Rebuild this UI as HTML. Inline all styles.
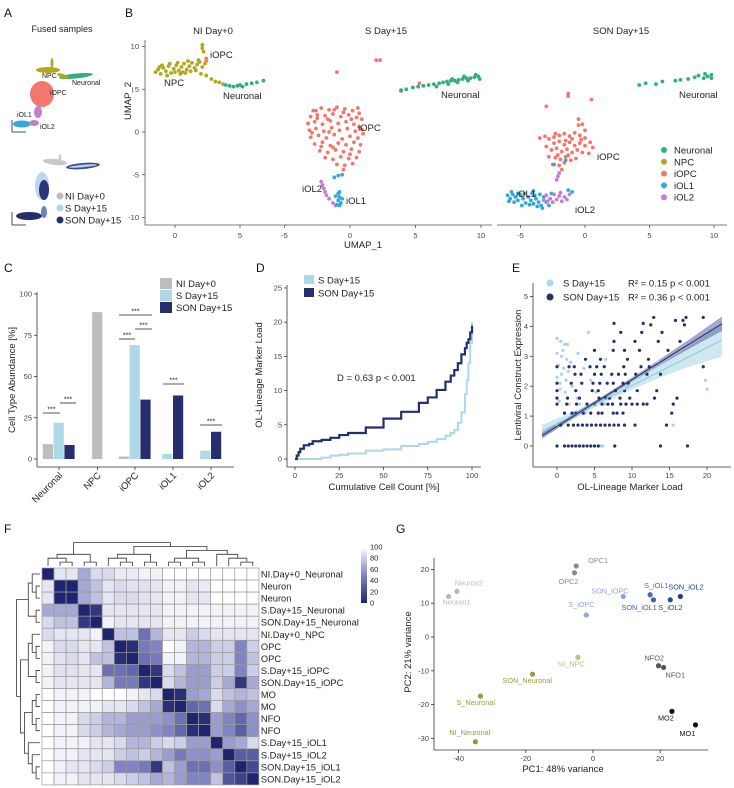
<!DOCTYPE html>
<html><head><meta charset="utf-8"><style>
html,body{margin:0;padding:0;background:#fff;}
svg{display:block;font-family:"Liberation Sans",Arial,sans-serif;}
</style></head><body>
<svg id="fig" width="734" height="788" viewBox="0 0 734 788" xmlns="http://www.w3.org/2000/svg">
<rect width="734" height="788" fill="#fff"/>
<g font-size="12" fill="#111">
<text x="4" y="17">A</text>
<text x="125" y="17">B</text>
<text x="4" y="272">C</text>
<text x="256" y="272">D</text>
<text x="512" y="272">E</text>
<text x="4" y="533">F</text>
<text x="396" y="533">G</text>
</g>
</svg>
<script>
const NS="http://www.w3.org/2000/svg";
const svg=document.getElementById('fig');
function mk(tag,attrs,parent){const e=document.createElementNS(NS,tag);for(const k in attrs)e.setAttribute(k,attrs[k]);(parent||svg).appendChild(e);return e;}
function grp(name){const g=mk('g',{});


return g;}
function txt(p,x,y,s,size,opts){opts=opts||{};const t=mk('text',{x:x,y:y,'font-size':size,fill:opts.fill||'#222','text-anchor':opts.anchor||'start'},p);if(opts.rot)t.setAttribute('transform','rotate('+opts.rot+' '+x+' '+y+')');t.textContent=s;


return t;}
function ln(p,x1,y1,x2,y2,c,w){return mk('line',{x1:x1,y1:y1,x2:x2,y2:y2,stroke:c||'#333','stroke-width':w||0.8},p);}

/* ================= DATA ================= */
// Panel B UMAP clusters
const cellTypes=['Neuronal','NPC','iOPC','iOL1','iOL2'];
const cellColors=['#30b07c','#b0a81e','#f3776c','#33a8dc','#c27fcf'];
const niNPC=[[-1.5,7],[-1.3,7.3],[-1.1,6.8],[-0.9,7.5],[-0.7,7.1],[-0.5,7.7],[-0.3,6.9],[-0.1,7.4],[0.1,7.8],[0.3,7.2],[0.5,7.6],[0.7,8],[0.9,7.3],[1.1,7.7],[1.3,8.1],[1.5,7.5],[1.7,7.9],[1.9,8.2],[2.1,7.6],[2.3,8],[0,7],[0.4,6.8],[0.8,6.9],[1.2,7.1],[1.6,7.2],[-0.6,6.6],[-1,7.8],[2,6.8],[2.4,6.6],[2.8,6.2],[3.1,5.9],[3.4,5.8],[3.7,5.6],[2.1,9.8],[2.1,10.2],[2.2,9.4],[-1.2,7.6],[0.2,8.1],[1,8.3],[1.8,8.4],[-0.4,8],[0.6,7.0]];
const niOPC=[[2.4,8.3],[2.4,8.6]];
const niNeuronal=[[3.9,5.5],[4.2,5.4],[4.5,5.3],[4.8,5.4],[5,5.5],[5.2,5.3],[5.5,5.6],[5.9,5.7],[6.3,5.8],[6.8,6]];
const sOPC=[[-2.8,2.5],[-2.2,2.8],[-1.6,2.6],[-1,2.9],[-0.4,2.7],[0.2,2.5],[0.7,2.2],[-3,1.8],[-2.5,2],[-1.9,1.9],[-1.3,2.1],[-0.7,1.8],[-0.1,2],[0.5,1.7],[0.9,1.5],[-3.2,1],[-2.7,1.2],[-2.1,0.9],[-1.5,1.3],[-0.9,1],[-0.3,1.2],[0.3,0.9],[-3.1,0.2],[-2.6,0.4],[-2,0.1],[-1.4,0.5],[-0.8,0.2],[-0.2,0.4],[0.4,0.1],[0.9,0.3],[-3,-0.6],[-2.4,-0.4],[-1.8,-0.7],[-1.2,-0.3],[-0.6,-0.8],[0,-0.5],[0.6,-0.7],[1,-0.2],[-2.7,-1.4],[-2.1,-1.2],[-1.5,-1.6],[-0.9,-1.3],[-0.3,-1.5],[0.3,-1.2],[0.8,-1.5],[-2.3,-2.2],[-1.7,-2.4],[-1.1,-2.1],[-0.5,-2.3],[0.1,-2],[0.7,-2.3],[-1.9,-3],[-1.3,-3.2],[-0.7,-2.9],[-0.1,-3.1],[0.5,-3],[-1,-3.8],[-0.4,-3.9],[0.2,-3.7],[-0.5,-4.4],[2,8.4],[2.3,8.4],[-1,7],[3.9,4.8],[5.3,5.7],[-2.5,1.6],[-1.7,1.5],[-0.5,2.3],[0.1,1.5],[-2.9,-0.1],[-1.6,0],[0.7,0.6],[-2.2,-1.7],[-1.3,-1.8],[0,-2.6],[-2.6,2.5],[-1.2,2.6],[0.6,2.8]];
const sOL2=[[-2.2,-5.8],[-2.1,-6.2],[-2,-6.6],[-1.9,-7],[-1.8,-7.4],[-1.6,-7.8],[-1.3,-8.3],[-1.1,-8.6]];
const sOL1=[[-0.9,-7.2],[-0.8,-7.6],[-0.9,-8],[-0.7,-8.3],[-1,-8.5],[-0.8,-7],[-1.1,-7.5],[-0.6,-7.8],[-0.6,-5],[-1.2,-5.3],[-0.9,-5.1],[-0.8,-8.6]];
const sNeuronal=[[3.9,4.9],[4.3,5],[4.8,5.2],[5.2,5.3],[5.6,5.4],[6,5.5],[6.4,5.6],[6.8,5.7],[7.1,5.8],[7.4,5.9],[7.7,6],[8,6],[8.3,6.1],[8.6,6.2],[8.9,6.3],[9.2,6.3],[9.5,6.4],[9.8,6.5],[9.9,6.2],[7.5,5.6],[8.2,5.8],[9,6],[6.6,5.3],[9.6,6.7],[8.7,6.5],[7.8,6.2]];
const sonNeuronal=[[4.2,5.5],[4.7,5.7],[5.5,5.6],[6,5.9],[7,6],[7.4,6.1],[8,6.2],[8.5,6.4],[8.8,6.6],[9.2,6.3],[9.5,6.5],[9.8,6.7],[9.8,6.3],[9.3,6.8]];
const sonOPC=[[-3.5,-0.7],[-3.1,-0.5],[-2.8,-0.8],[-2.4,-0.6],[-0.5,0.8],[-0.5,1.5],[-0.2,0.9],[0,0.2],[-2,-0.4],[-1.6,-0.2],[-1.2,-0.5],[-0.8,-0.1],[-0.4,-0.4],[0,-0.7],[0.4,-1.2],[0.6,-1.8],[-2.4,-1.3],[-2,-1.1],[-1.6,-1.5],[-1.2,-1.2],[-0.8,-1.6],[-0.4,-1.3],[0,-1.6],[-2.6,-2.1],[-2.2,-1.9],[-1.8,-2.3],[-1.4,-2],[-1,-2.4],[-0.6,-2.1],[-0.2,-2.4],[0.3,-2.5],[-2.8,-2.9],[-2.3,-3],[-1.9,-3.2],[-1.5,-2.9],[-1.1,-3.3],[-0.7,-3.1],[-2.5,-3.8],[-2,-3.9],[-1.6,-3.6],[-1.8,-4.4],[-1.5,-1],[-1,-0.8],[-2.1,-2.7],[-1.3,-2.7],[-3,-1.7],[-0.3,-0.9],[-3,3],[-1.3,4.2],[-1.3,4.5],[0.5,3.8],[-2.3,-0.2]];
const sonOL2=[[-2,-4.8],[-2.1,-5.2],[-2.2,-5.6],[-3,-7.4],[-2.7,-7.8],[-2.4,-7.3],[-2.2,-7.9],[-2,-7.5],[-1.8,-8.1],[-1.6,-7.6],[-1.4,-7.9],[-1.2,-7.3],[-2.5,-8.2],[-1.9,-7.1],[-3.2,-8],[-2.9,-8.1]];
const sonOL1=[[-6,-7.4],[-5.8,-7.8],[-5.6,-7.3],[-5.4,-7.6],[-5.2,-8],[-5,-7.4],[-4.8,-7.8],[-4.6,-8.3],[-4.4,-7.6],[-4.2,-8],[-4,-8.4],[-3.8,-7.8],[-3.6,-8.2],[-3.4,-8.6],[-3.2,-7.6],[-3,-8.2],[-2.8,-8.6],[-5.9,-8.1],[-5.5,-8.2],[-5.1,-7.2],[-4.7,-7.2],[-4.3,-8.5],[-3.9,-7.4],[-3.5,-7.3],[-3.3,-8.9],[-2.6,-7.2],[-1.3,-6.8],[-1,-7],[-4,-6.9],[-2.4,-3.8],[-1.5,-3.3],[-5.7,-7.0],[-4.9,-8.6],[-4.1,-7.2],[-3.7,-8.7]];

// Panel C bars
const barCategories=['Neuronal','NPC','iOPC','iOL1','iOL2'];
const barSeries=['NI Day+0','S Day+15','SON Day+15'];
const barNI=[9,89,1.5,null,null];
const barS=[22,null,69,3,5];
const barSON=[8.5,null,36,38.5,16.5];
const barColors=['#bdbdbd','#add8e6','#262f6e'];
const yTicksC=[0,25,50,75,100];

// Panel D ECDF
const ecdfPct=[0,1,2,3,5,8,10,15,20,25,30,40,50,60,70,75,80,85,88,90,92,94,96,97,98,99,100];
const ecdfSON=[0,0.5,1,1.5,2,2.2,2.6,2.8,3.1,3.5,3.8,4.6,5.9,6.9,8.2,9,10.1,11.3,12.2,13,14,15.3,16.2,17,17.5,18.5,19.5];
const ecdfS=[0,0,0,0,0,0,0,0.2,0.5,0.6,0.8,1.2,1.4,1.9,2.2,2.5,2.9,3.4,3.8,4.2,5.3,6.8,9.5,11.5,14,17,20];
const xTicksD=[0,25,50,75,100];
const yTicksD=[0,5,10,15,20,25];

// Panel E scatter
const eSON=[[0,0],[1,0],[1.5,0],[2,0],[2.5,0],[3,0],[3.5,0],[4,0],[4.5,0],[5,0],[5.5,0],[7.7,0],[13.8,0],[17.4,0],
[0.5,0.7],[1.5,0.7],[2.2,0.7],[2.8,0.7],[3.4,0.7],[4,0.7],[4.6,0.7],[5.2,0.7],[5.8,0.7],[6.4,0.7],[7,0.7],[7.6,0.7],[8.2,0.7],[9,0.7],[10.4,0.7],[14.6,0.7],
[1,1.1],[2,1.1],[2.5,1.1],[3.5,1.1],[4.5,1.1],[5.5,1.1],[6,1.1],[7.5,1.1],[8,1.1],[8.8,1.1],[15.3,1.1],
[0,1.4],[1.3,1.4],[2.6,1.4],[4,1.4],[5,1.4],[6,1.4],[6.8,1.4],[7.4,1.4],[8.5,1.4],[9.2,1.4],[10,1.4],[10.7,1.4],[11.5,1.4],[12,1.4],[15.5,1.4],
[0,1.6],[1.4,1.6],[3,1.6],[5.6,1.6],[6.5,1.6],[7,1.6],[8.4,1.6],[9.7,1.6],[13,1.6],[16,1.6],
[0,1.85],[2.5,1.85],[4.7,1.85],[5.5,1.85],[7.8,1.85],[9,1.85],[10.7,1.85],[13.3,1.85],
[0,2.1],[1.9,2.1],[3.3,2.1],[4.8,2.1],[5.7,2.1],[6.7,2.1],[7.5,2.1],[8.8,2.1],[9.5,2.1],
[2.4,2.4],[3.2,2.4],[5,2.4],[5.9,2.4],[7.3,2.4],[8.2,2.4],[9.1,2.4],[10.5,2.4],[12,2.4],[13.8,2.4],
[0,2.65],[1.6,2.65],[2.3,2.65],[4.4,2.65],[5.3,2.65],[6.3,2.65],[8.9,2.65],[11.2,2.65],[12.3,2.65],[19.5,2.65],
[3.8,2.9],[5.8,2.9],[9.4,2.9],[12.2,2.9],[5,3.2],[7.5,3.2],[9,3.2],[11,3.2],[14.8,3.2],
[7.6,3.5],[10.4,3.5],[13.5,3.5],[16.4,3.5],[8.5,3.8],[11.3,3.8],[14,3.8],[7.6,4.1],[11.5,4.1],[12.5,4.05],[17,4.05],[16.8,4.2],[12.9,4.3],[15.8,4.2],[17.2,4.3],[19.5,4.3]];
const eS=[[0,3.6],[0.5,3.5],[1,3.4],[1.4,3.4],[0,3.1],[0.6,3.0],[1.3,2.9],[0.2,2.7],[0.9,2.6],[1.5,2.5],[0,2.3],[0.6,2.4],[1.2,2.2],[2,2.0],[0.4,1.9],[1.1,1.8],[2.7,1.6],[0.3,1.5],[1.6,1.4],[3,1.4],[4.2,3.8],[3.6,2.6],[2.8,3.1],[4.5,2.2],[5.2,1.8],[6.5,2.9],[9.3,2],[11,2.3],[12.5,2.6],[13.5,2.8],[15.5,0.7],[19.8,2.2],[20,1.9],[5.8,0],[6.1,0],[0,0.7],[1,1.1],[2.2,0.7],[3.8,1.1],[6.4,1.4],[0.8,3.2],[1.8,2.8],[0.4,2.1]];
const fitSON=[0.66,0.156];   // intercept, slope
const fitS=[0.75,0.127];
const xTicksE=[0,5,10,15,20];
const yTicksE=[0,1,2,3,4,5];

// Panel F heatmap
const hmLabels=['NI.Day+0_Neuronal','Neuron','Neuron','S.Day+15_Neuronal','SON.Day+15_Neuronal','NI.Day+0_NPC','OPC','OPC','S.Day+15_iOPC','SON.Day+15_iOPC','MO','MO','NFO','NFO','S.Day+15_iOL1','S.Day+15_iOL2','SON.Day+15_iOL1','SON.Day+15_iOL2'];
const hmValues=[
[0,90,90,65,85,85,92,92,95,95,100,100,100,100,100,100,100,100],
[90,0,0,65,75,90,85,88,88,90,95,95,90,92,100,100,100,100],
[90,0,0,65,75,90,85,85,88,90,95,95,90,90,100,100,100,100],
[65,65,65,0,10,90,90,90,90,90,95,95,95,95,95,95,95,95],
[85,75,75,10,0,95,90,90,90,90,95,95,95,95,95,95,95,95],
[85,90,90,90,95,0,75,75,40,70,90,90,80,85,90,90,90,90],
[95,85,85,90,90,75,0,5,45,50,100,95,70,70,80,80,50,80],
[95,88,85,90,75,75,5,0,40,45,95,95,70,70,80,80,50,75],
[95,88,88,90,90,40,40,35,0,10,85,75,60,60,80,80,50,80],
[95,90,90,90,90,70,45,45,10,0,85,70,60,60,80,65,10,65],
[100,95,95,95,100,100,100,95,90,85,0,5,60,65,85,75,70,75],
[100,95,95,95,95,90,90,85,75,65,5,0,35,40,85,65,55,65],
[100,95,95,85,80,70,70,60,60,60,55,40,0,5,60,50,35,55],
[100,95,95,85,80,70,65,60,60,55,50,35,5,0,60,50,30,55],
[100,95,95,95,90,90,85,70,70,80,85,80,60,60,0,60,65,85],
[100,95,95,90,90,90,80,75,80,70,60,45,55,55,60,0,30,30],
[100,95,90,90,85,80,50,50,45,10,75,60,40,40,55,30,0,20],
[100,95,95,90,90,90,85,80,75,65,70,60,50,50,75,25,15,0]];
const hmTree=[[[0,[1,2]],[3,4]],[[[5,[6,7]],[8,9]],[[[10,11],[12,13]],[14,[15,[16,17]]]]]];
const cbTicks=[0,20,40,60,80,100];

// Panel G PCA
const pcaNames=['Neuron1','Neuron2','OPC1','OPC2','SON_iOPC','S_iOPC','S_iOL1','SON_iOL1','S_iOL2','SON_iOL2','NI_NPC','SON_Neuronal','S_Neuronal','NI_Neuronal','NFO2','NFO1','MO2','MO1'];
const pcaX=[-43,-40.5,-5,-5.5,9,-2,17,18,23,26,-4.5,-18,-33.5,-35,19.5,21,23.5,30.5];
const pcaY=[12,13.5,21,19,12,6.5,12.5,11,11,12,-6,-11,-17.5,-31,-8.5,-9,-22,-26];
const pcaColors=['#b8b8b8','#b8b8b8','#8a8a8a','#8a8a8a','#8ea2cc','#8fa8d8','#4a6db5','#3b63ae','#1f4a9a','#1d3d8a','#a9c97f','#9a9a42','#9a9a3c','#8f9a3a','#555555','#555555','#111111','#111111'];
const pcaLabelDx=[-6,-2,12,-16,-32,-18,-6,-32,-12,-12,-20,-30,-24,-26,-14,2,-14,-16];
const pcaLabelDy=[8,-6,-3,11,-3,-8,-7,10,10,-7,9,9,9,-7,-5,10,9,11];
const xTicksG=[-40,-20,0,20];
const yTicksG=[-30,-20,-10,0,10,20];

/* ================= PANEL B ================= */
const gB=grp('umap-panel-b');
const yB=v=>132-v*8.55;
const umapPanels=[
 {title:'NI Day+0',x0:175,ppu:13.0,ax:[145,287],tx:213,ticks:[0,5],sets:[[niNPC,1],[niOPC,2],[niNeuronal,0]]},
 {title:'S Day+15',x0:350,ppu:13.1,ax:[285,492],tx:386,ticks:[-5,0,5,10],sets:[[sOPC,2],[sNeuronal,0],[sOL2,4],[sOL1,3]]},
 {title:'SON Day+15',x0:585,ppu:12.9,ax:[497,727],tx:621,ticks:[-5,0,5,10],sets:[[sonNeuronal,0],[sonOPC,2],[sonOL1,3],[sonOL2,4]]}];
umapPanels.forEach((P,i)=>{
  const g=mk('g',{},gB);
  
  
  txt(g,P.tx,34,P.title,9.5,{anchor:'middle',name:'umap-title'});
  ln(g,P.ax[0],225,P.ax[1],225,'#555',0.8);
  P.ticks.forEach(t=>{const x=P.x0+t*P.ppu;ln(g,x,225,x,228,'#555');txt(g,x,238,String(t),7.5,{anchor:'middle',fill:'#444',name:'x-tick-label'});});
  P.sets.forEach(([pts,ci])=>pts.forEach(p=>{
    const c=mk('circle',{cx:P.x0+p[0]*P.ppu,cy:yB(p[1]),r:1.9,fill:cellColors[ci]},g);
    
    
  }));
});
ln(gB,145,40,145,225,'#555',0.8);
[10,5,0,-5,-10].forEach(v=>{ln(gB,142,yB(v),145,yB(v),'#555');txt(gB,139,yB(v)+2.5,String(v),7.5,{anchor:'end',fill:'#444',name:'y-tick-label'});});
txt(gB,131,101,'UMAP_2',9.5,{anchor:'middle',rot:-90,name:'y-axis-title'});
txt(gB,363,248,'UMAP_1',9.5,{anchor:'middle',name:'x-axis-title'});
[['NPC',164,86],['iOPC',210,58],['Neuronal',223,99],['Neuronal',441,98],['iOPC',358,131],['iOL2',302,192],['iOL1',346,204],['Neuronal',679,98],['iOPC',597,160],['iOL1',516,197],['iOL2',575,213]].forEach(l=>txt(gB,l[1],l[2],l[0],9.5,{name:'cluster-label'}));
cellTypes.forEach((n,i)=>{const y=150+i*11.8;
  const c=mk('circle',{cx:664,cy:y,r:3,fill:cellColors[i]},gB);
  
  
  txt(gB,674,y+3.5,n,9.5,{name:'legend-label'});});

/* ================= PANEL A ================= */
const gA=grp('fused-umap-panel-a');
txt(gA,62,32,'Fused samples',9,{anchor:'middle',name:'panel-a-title'});
function blob(p,cx,cy,rx,ry,fill,name,rot){const e=mk('ellipse',{cx:cx,cy:cy,rx:rx,ry:ry,fill:fill},p);if(rot)e.setAttribute('transform','rotate('+rot+' '+cx+' '+cy+')');
 
 return e;}
blob(gA,48,70,12,3,cellColors[1],'a-npc');blob(gA,52,63,1.5,5,cellColors[1],'a-npc-tip');
blob(gA,76,76,17,2.5,cellColors[0],'a-neuronal',-6);blob(gA,63,76,6,2,cellColors[1],'a-npc-tail',20);
blob(gA,42,94,12,13,cellColors[2],'a-iopc');blob(gA,38,112,4,6,cellColors[4],'a-iol2-trail');
blob(gA,22,124,9,3.5,cellColors[3],'a-iol1');blob(gA,34,123,5,3,cellColors[4],'a-iol2');
txt(gA,42,78,'NPC',7,{name:'a-label'});txt(gA,72,85,'Neuronal',7,{name:'a-label'});txt(gA,50,95,'iOPC',7,{name:'a-label'});txt(gA,17,117,'iOL1',7,{name:'a-label'});txt(gA,40,129,'iOL2',7,{name:'a-label'});
ln(gA,12,132,12,120,'#222');ln(gA,12,132,26,132,'#222');
blob(gA,55,162,12,3,'#c8c8c8','a-ni-cells',6);blob(gA,60,158,1.2,4,'#c8c8c8','a-ni-tip');
blob(gA,83,166,17,3,'#3d4a8c','a-neuronal-mixed',-5);blob(gA,83,166,14,1.2,'#b9d6ea','a-neuronal-light',-5);
blob(gA,42,186,7,14,'#b9d9ec','a-iopc-s');blob(gA,44,190,5,10,'#2c3577','a-iopc-son');
blob(gA,29,216,13,4,'#252d6b','a-iol-son');blob(gA,44,212,3,6,'#6f82c0','a-iol-trail');
ln(gA,12,225,12,212,'#222');ln(gA,12,225,26,225,'#222');
[['NI Day+0','#bdbdbd'],['S Day+15','#add8e6'],['SON Day+15','#262f6e']].forEach((d,i)=>{const y=196+i*12;
 const c=mk('circle',{cx:60,cy:y,r:3.5,fill:d[1]},gA);
 
 
 txt(gA,65,y+3.5,d[0],9.5,{name:'a-legend-label'});});

/* ================= PANEL C ================= */
const gC=grp('bar-chart-c');
const yC=v=>459-v*1.65;
const groupCx=[59,97.5,135,173,211];
const bw=10.8;
ln(gC,37,292,37,467,'#333');ln(gC,37,467,234,467,'#333');
yTicksC.forEach(t=>{ln(gC,34,yC(t),37,yC(t),'#333');txt(gC,32,yC(t)+2.5,String(t),7.5,{anchor:'end',fill:'#444',name:'y-tick-label'});});
txt(gC,15,380,'Cell Type Abundance [%]',9.5,{anchor:'middle',rot:-90,name:'y-axis-title'});
const allSeries=[barNI,barS,barSON];
barCategories.forEach((cat,ci)=>{
  const present=[0,1,2].filter(s=>allSeries[s][ci]!==null);
  present.forEach((s,k)=>{
    const x=groupCx[ci]+(k-(present.length)/2)*bw;
    const v=allSeries[s][ci];
    const r=mk('rect',{x:x,y:yC(v),width:bw-0.6,height:yC(0)-yC(v),fill:barColors[s]},gC);
    
    
  });
  ln(gC,groupCx[ci],467,groupCx[ci],470,'#333');
  txt(gC,groupCx[ci]+4,476,cat,9.5,{anchor:'end',rot:-45,name:'x-tick-label'});
});
[[43,60,413],[60,76,403],[119,135,339],[135,152,329],[119,152,315],[163,184,384],[200,222,425]].forEach(s=>{
  ln(gC,s[0],s[2],s[1],s[2],'#222');txt(gC,(s[0]+s[1])/2,s[2]-1.5,'***',7,{anchor:'middle',name:'significance-label'});});
barSeries.forEach((n,i)=>{const y=278+i*12;
  const r=mk('rect',{x:160,y:y,width:12,height:11,fill:barColors[i]},gC);
  
  
  txt(gC,176,y+9,n,9.5,{name:'legend-label'});});

/* ================= PANEL D ================= */
const gD=grp('ecdf-chart-d');
const xD=v=>295+v*1.77, yD=v=>459-v*6.84;
ln(gD,287,285,287,467,'#333');ln(gD,287,467,481,467,'#333');
xTicksD.forEach(t=>{ln(gD,xD(t),467,xD(t),470,'#333');txt(gD,xD(t),478,String(t),7.5,{anchor:'middle',fill:'#444',name:'x-tick-label'});});
yTicksD.forEach(t=>{ln(gD,284,yD(t),287,yD(t),'#333');txt(gD,282,yD(t)+2.5,String(t),7.5,{anchor:'end',fill:'#444',name:'y-tick-label'});});
txt(gD,262,375,'OL-Lineage Marker Load',9.5,{anchor:'middle',rot:-90,name:'y-axis-title'});
txt(gD,384,490,'Cumulative Cell Count [%]',9.5,{anchor:'middle',name:'x-axis-title'});
function stepPath(xs,ys){let d='M'+xD(xs[0])+','+yD(ys[0]);for(let i=1;i<xs.length;i++){d+=' H'+xD(xs[i])+' V'+yD(ys[i]);}return d;}
const pS=mk('path',{d:stepPath(ecdfPct,ecdfS),fill:'none',stroke:'#add8e6','stroke-width':2},gD);


const pSON=mk('path',{d:stepPath(ecdfPct,ecdfSON),fill:'none',stroke:'#262f6e','stroke-width':2.2},gD);


txt(gD,337,381,'D = 0.63   p < 0.001',9.5,{name:'ks-statistic'});
[['S Day+15','#add8e6'],['SON Day+15','#262f6e']].forEach((d,i)=>{const y=280+i*13;
  const r=mk('rect',{x:304,y:y-5,width:10,height:9,fill:d[1]},gD);
  
  
  txt(gD,318,y+3.5,d[0],9.5,{name:'legend-label'});});

/* ================= PANEL E ================= */
const gE=grp('scatter-chart-e');
const xE=v=>557+v*7.5, yE=v=>446-v*29.9;
ln(gE,533,283,533,467,'#333');ln(gE,533,467,731,467,'#333');
xTicksE.forEach(t=>{ln(gE,xE(t),467,xE(t),470,'#333');txt(gE,xE(t),478,String(t),7.5,{anchor:'middle',fill:'#444',name:'x-tick-label'});});
yTicksE.forEach(t=>{ln(gE,530,yE(t),533,yE(t),'#333');txt(gE,528,yE(t)+2.5,String(t),7.5,{anchor:'end',fill:'#444',name:'y-tick-label'});});
txt(gE,521,375,'Lentiviral Construct Expression',9.5,{anchor:'middle',rot:-90,name:'y-axis-title'});
txt(gE,630,490,'OL-Lineage Marker Load',9.5,{anchor:'middle',name:'x-axis-title'});
function band(fit,hw0,hw1,color,op,name){
  const xs=[-2,2,6,10,14,18,22];const up=[],lo=[];
  xs.forEach(x=>{const h=hw0+hw1*Math.pow((x-6)/16,2);const y=fit[0]+fit[1]*x;up.push(xE(x)+','+yE(y+h));lo.unshift(xE(x)+','+yE(y-h));});
  const p=mk('polygon',{points:up.concat(lo).join(' '),fill:color,'fill-opacity':op},gE);
  
  
}
band(fitS,0.1,0.45,'#add8e6',0.6,'ci-band-s');
band(fitSON,0.06,0.18,'#5a63a0',0.55,'ci-band-son');
eS.forEach(p=>{const c=mk('circle',{cx:xE(p[0]),cy:yE(p[1]),r:1.6,fill:'#a6d3e6'},gE);
 
 });
eSON.forEach(p=>{const c=mk('circle',{cx:xE(p[0]),cy:yE(p[1]),r:1.6,fill:'#262f6e'},gE);
 
 });
const lS=ln(gE,xE(-2),yE(fitS[0]-2*fitS[1]),xE(22),yE(fitS[0]+22*fitS[1]),'#8fc6de',1);

const lSON=ln(gE,xE(-2),yE(fitSON[0]-2*fitSON[1]),xE(22),yE(fitSON[0]+22*fitSON[1]),'#262f6e',1);

[['S Day+15','#add8e6','R²  = 0.15 p < 0.001'],['SON Day+15','#262f6e','R²  = 0.36 p < 0.001']].forEach((d,i)=>{const y=283+i*14;
  const c=mk('circle',{cx:550,cy:y,r:3.5,fill:d[1]},gE);
  
  
  txt(gE,563,y+3.5,d[0],9.5,{name:'legend-label'});txt(gE,628,y+3.5,d[2],9.5,{name:'r-squared-label'});});

/* ================= PANEL F ================= */
const gF=grp('heatmap-f');
const hx0=42,hy0=568,cs=12.05;
function hmColor(v){const t=v/100;const a=[31,36,112],m=[128,132,196],b=[255,255,255];let c;
  if(t<0.5){const u=t/0.5;c=a.map((x,i)=>x+(m[i]-x)*u);}else{const u=(t-0.5)/0.5;c=m.map((x,i)=>x+(b[i]-x)*u);}
  return 'rgb('+c.map(Math.round).join(',')+')';}
hmValues.forEach((row,r)=>row.forEach((v,c)=>{
  const e=mk('rect',{x:hx0+c*cs,y:hy0+r*cs,width:cs,height:cs,fill:hmColor(v),stroke:'#9a9a9a','stroke-width':0.7},gF);
  
  
}));
hmLabels.forEach((l,r)=>txt(gF,hx0+18*cs+2,hy0+r*cs+9.5,l,9.3,{name:'heatmap-row-label'}));
function dendro(node,horiz){ // returns [pos,height]
  if(typeof node==='number')return [node*cs+cs/2,0];
  const a=dendro(node[0],horiz),b=dendro(node[1],horiz);const h=Math.max(a[1],b[1])+1;
  const sc=3.9;
  if(horiz){const y=v=>hy0-2-v*sc;
    const p=mk('path',{d:'M'+(hx0+a[0])+','+y(a[1])+' V'+y(h)+' H'+(hx0+b[0])+' V'+y(b[1]),fill:'none',stroke:'#333','stroke-width':0.8},gF);
    }
  else{const x=v=>hx0-2-v*sc;
    const p=mk('path',{d:'M'+x(a[1])+','+(hy0+a[0])+' H'+x(h)+' V'+(hy0+b[0])+' H'+x(b[1]),fill:'none',stroke:'#333','stroke-width':0.8},gF);
    }
  return [(a[0]+b[0])/2,h];}
dendro(hmTree,true);dendro(hmTree,false);
const defs=mk('defs',{});const lg=mk('linearGradient',{id:'cbg',x1:0,y1:0,x2:0,y2:1},defs);
mk('stop',{offset:0,'stop-color':'#ffffff'},lg);mk('stop',{offset:0.5,'stop-color':'#8084c4'},lg);mk('stop',{offset:1,'stop-color':'#1f2470'},lg);
const cb=mk('rect',{x:361,y:547,width:6,height:56,fill:'url(#cbg)'},gF);

cbTicks.forEach(t=>txt(gF,370,603-t*0.56+2.5,String(t),7.5,{name:'colorbar-tick-label'}));

/* ================= PANEL G ================= */
const gG=grp('pca-chart-g');
const xG=v=>593+v*3.36, yG=v=>637-v*3.38;
ln(gG,434,558,434,750,'#333');ln(gG,434,750,708,750,'#333');
xTicksG.forEach(t=>{ln(gG,xG(t),750,xG(t),753,'#333');txt(gG,xG(t),761,String(t),7.5,{anchor:'middle',fill:'#444',name:'x-tick-label'});});
yTicksG.forEach(t=>{ln(gG,431,yG(t),434,yG(t),'#333');txt(gG,429,yG(t)+2.5,String(t),7.5,{anchor:'end',fill:'#444',name:'y-tick-label'});});
txt(gG,563,772,'PC1: 48% variance',9.5,{anchor:'middle',name:'x-axis-title'});
txt(gG,411,652,'PC2: 21% variance',9.5,{anchor:'middle',rot:-90,name:'y-axis-title'});
pcaNames.forEach((n,i)=>{
  const c=mk('circle',{cx:xG(pcaX[i]),cy:yG(pcaY[i]),r:2.6,fill:pcaColors[i]},gG);
  
  
  txt(gG,xG(pcaX[i])+pcaLabelDx[i],yG(pcaY[i])+pcaLabelDy[i],n,7.3,{fill:pcaColors[i],name:'pca-point-label'});
});
</script>
</body></html>
